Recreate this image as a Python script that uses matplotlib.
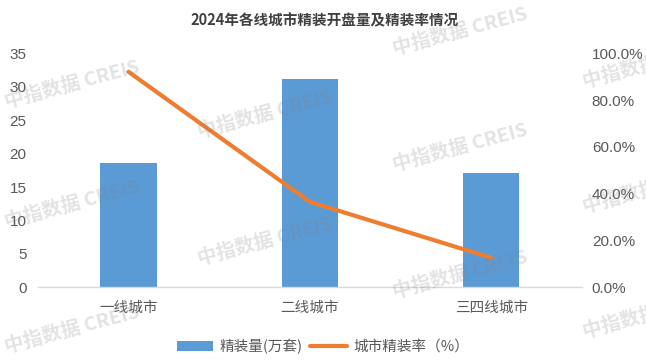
import matplotlib
matplotlib.use("Agg")
import matplotlib.pyplot as plt
import matplotlib.ticker as ticker
import numpy as np

plt.rcParams['font.family'] = ['Noto Sans CJK SC', 'DejaVu Sans']

# 数据
cities = ["一线城市", "二线城市", "三四线城市"]
volume = [18.6, 31.2, 17.1]          # 精装量(万套)
rate = [0.921, 0.365, 0.126]          # 城市精装率

title = "2024年各线城市精装开盘量及精装率情况"
bar_label = "精装量(万套)"
line_label = "城市精装率（%）"

text_color = "#595959"
bar_color = "#5b9bd5"
line_color = "#ed7d31"

fig = plt.figure(figsize=(6.46, 3.64), dpi=100)
ax = fig.add_axes([0.0584, 0.2107, 0.9010 - 0.0584, 0.8536 - 0.2107])
ax2 = ax.twinx()

x = np.arange(len(cities))
bars = ax.bar(x, volume, width=0.31, color=bar_color, label=bar_label, zorder=2)
line, = ax2.plot(x, rate, color=line_color, linewidth=3.0, solid_capstyle='round',
                 label=line_label, zorder=3)

ax.set_xlim(-0.5, len(cities) - 0.5)
ax.set_ylim(0, 35)
ax.set_yticks(np.arange(0, 36, 5))
ax2.set_ylim(0, 1.0)
ax2.set_yticks(np.arange(0, 1.01, 0.2))
ax2.yaxis.set_major_formatter(ticker.FuncFormatter(lambda v, p: f"{v*100:.1f}%"))

for a in (ax, ax2):
    for s in a.spines.values():
        s.set_visible(False)
ax.spines['bottom'].set_visible(True)
ax.spines['bottom'].set_color("#d9d9d9")
ax.spines['bottom'].set_linewidth(1.0)

ax.set_xticks(x)
ax.set_xticklabels(cities, fontsize=10.5, color=text_color)
ax.tick_params(axis='x', length=0, pad=10)
ax.tick_params(axis='y', length=0, pad=8, labelsize=11, labelcolor=text_color)
ax2.tick_params(axis='y', length=0, pad=7, labelsize=11, labelcolor=text_color)
for lab in ax.get_yticklabels() + ax2.get_yticklabels():
    lab.set_family(['Liberation Sans', 'DejaVu Sans'])

fig.text(0.503, 0.945, title, ha='center', va='center', fontsize=10.5,
         fontweight='bold', color="#404040")

fig.legend(handles=[bars, line], labels=[bar_label, line_label], loc='center',
           bbox_to_anchor=(0.5, 0.049), ncol=2, frameon=False, fontsize=10.5,
           handlelength=2.5, handletextpad=0.45, columnspacing=0.5,
           labelcolor=text_color)

# 水印
marks = [(72, 85), (72, 205), (72, 330),
         (265, 115), (265, 242),
         (460, 32), (460, 148), (460, 275),
         (650, 65), (650, 190), (650, 315)]
for px, py in marks:
    fig.text(px / 646, 1 - py / 364, "中指数据 CREIS", ha='center', va='center',
             rotation=15, fontsize=14, fontweight='bold', color="#808080",
             alpha=0.22, zorder=10)

fig.savefig("out.png", dpi=100)
